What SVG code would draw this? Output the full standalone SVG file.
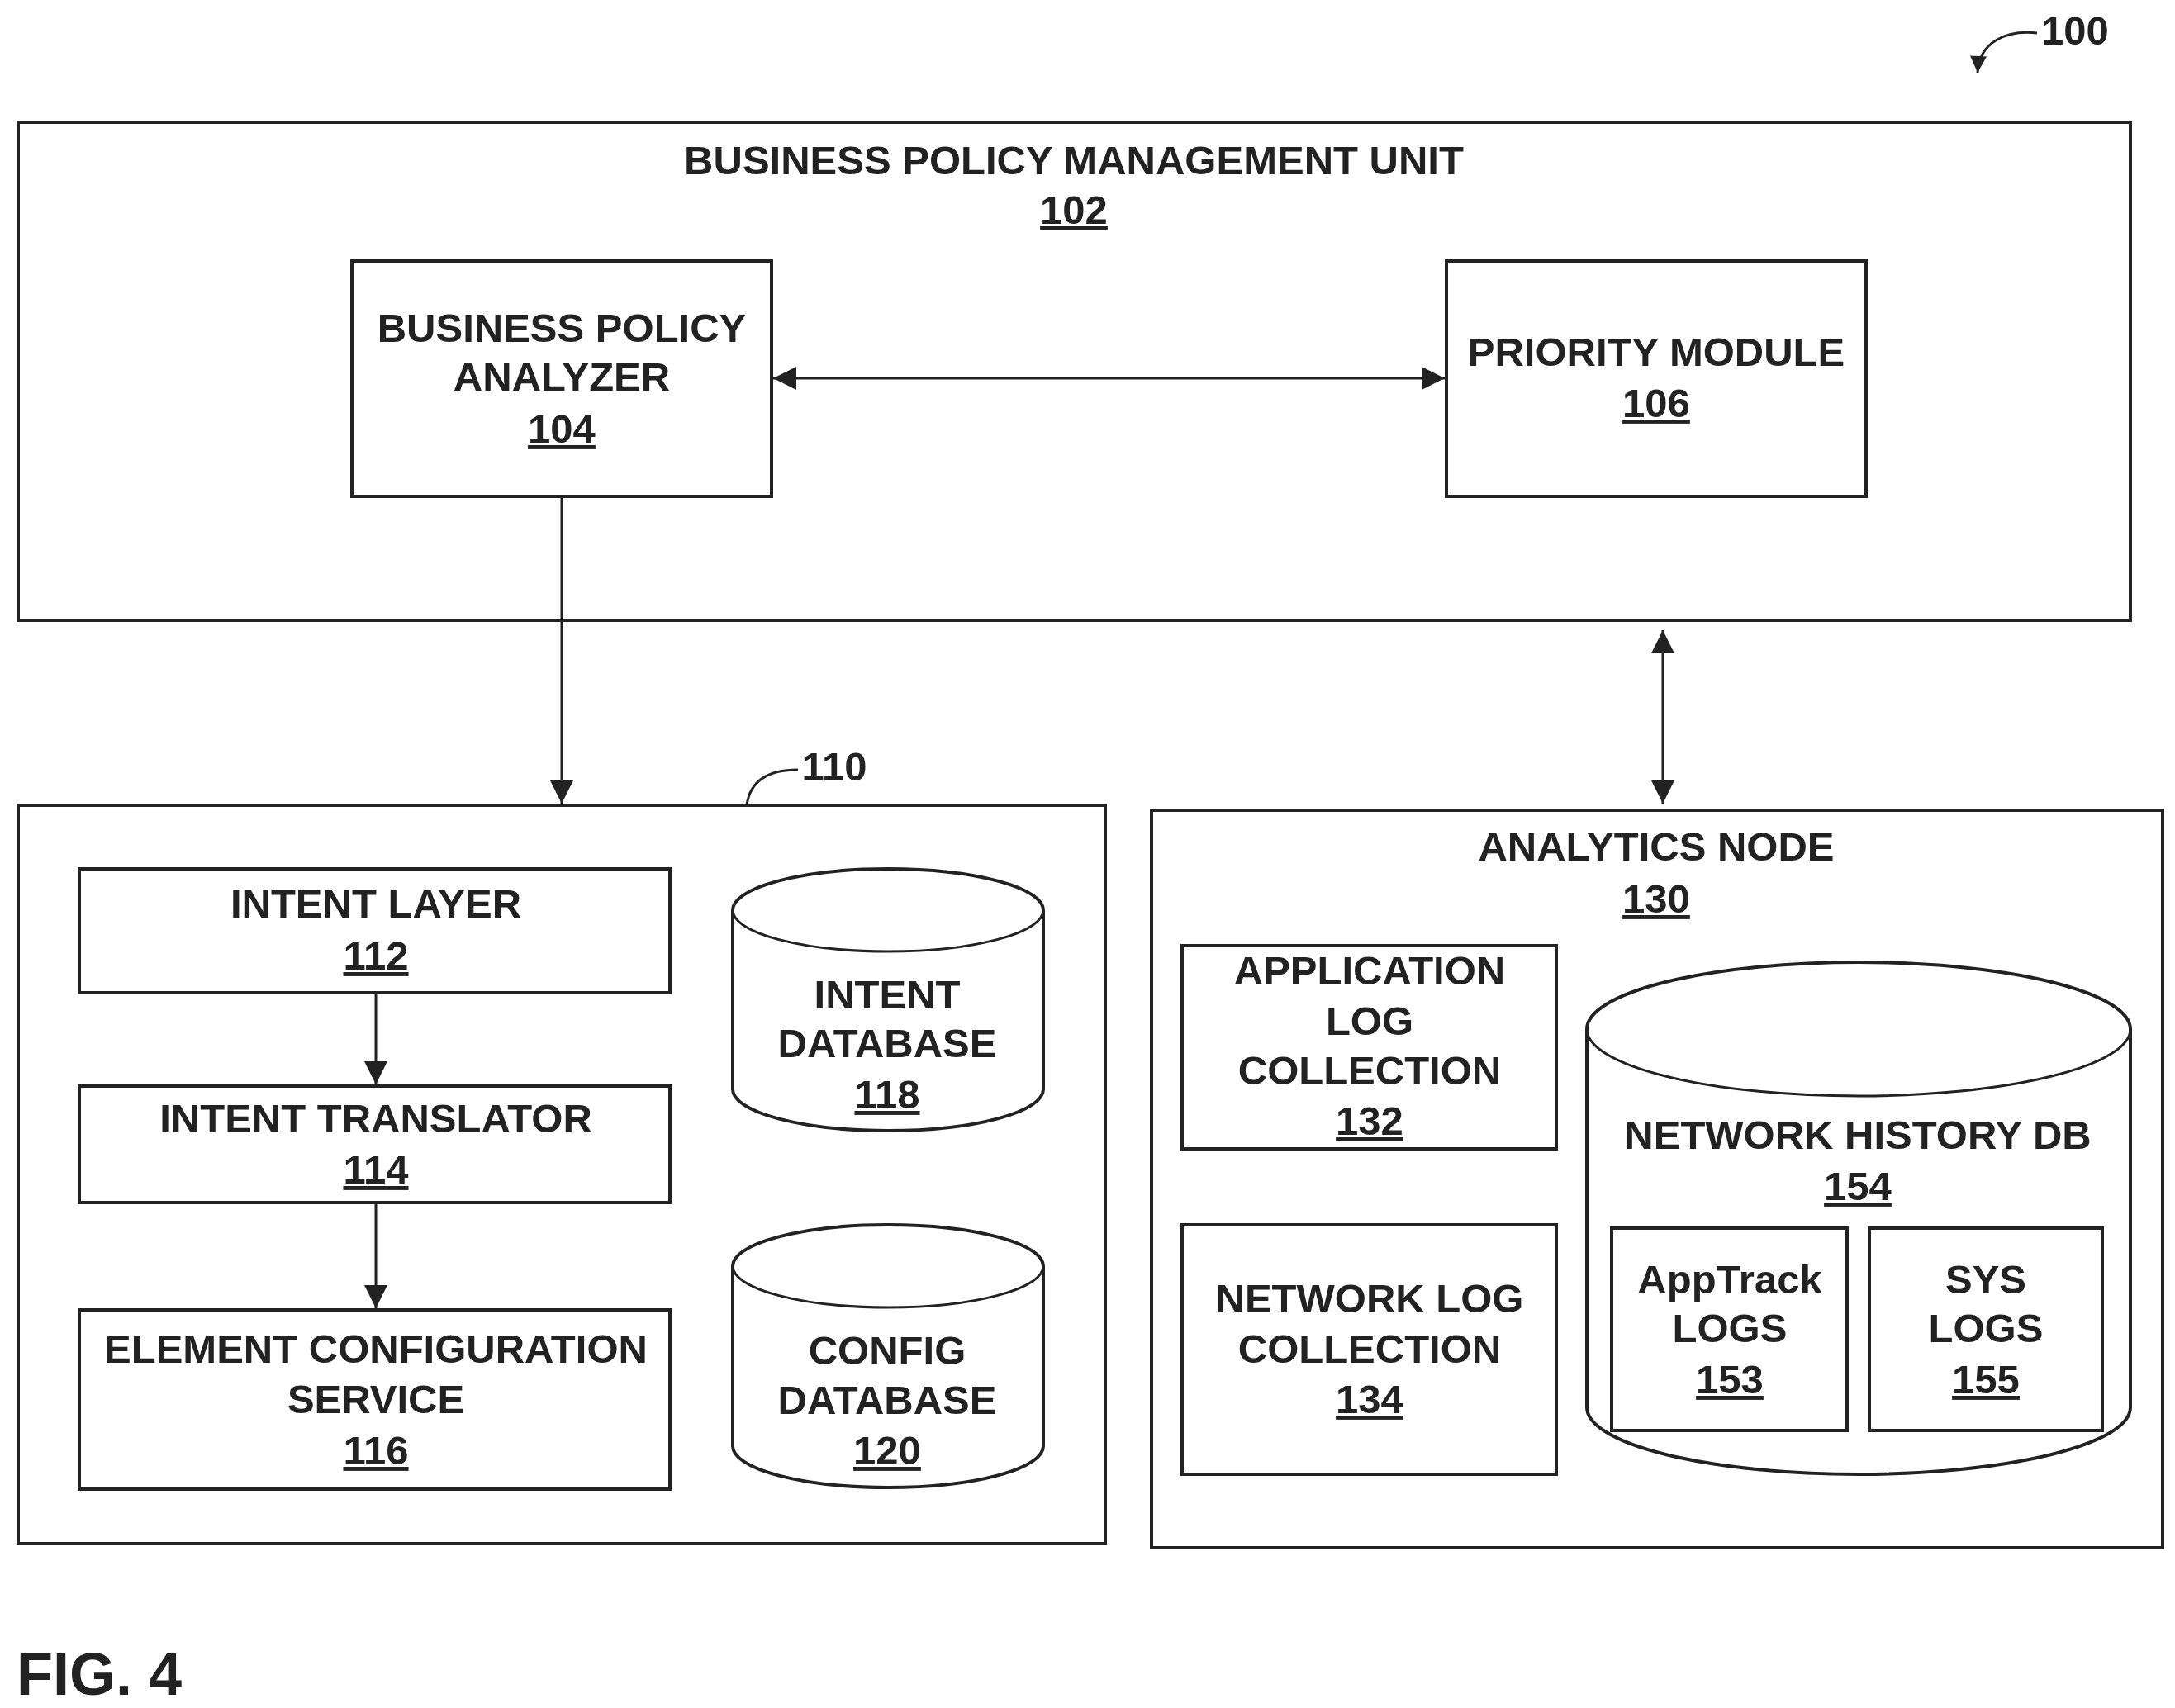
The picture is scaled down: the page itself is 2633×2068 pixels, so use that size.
<svg xmlns="http://www.w3.org/2000/svg" width="2633" height="2068" viewBox="0 0 2633 2068">
<style>
.b{fill:#fff;stroke:#222;stroke-width:4}
.t{font-family:"Liberation Sans",Arial,sans-serif;font-weight:bold;font-size:49px;fill:#222;text-anchor:middle}
.u{text-decoration:underline}
.c{fill:none;stroke:#222;stroke-width:3}
</style>
<defs>
<marker id="a" viewBox="0 0 10 10" refX="10" refY="5" markerWidth="22" markerHeight="20" markerUnits="userSpaceOnUse" orient="auto-start-reverse"><path d="M0,0L10,5L0,10z" fill="#222"/></marker>
<marker id="A" viewBox="0 0 10 10" refX="10" refY="5" markerWidth="36" markerHeight="28" orient="auto-start-reverse" markerUnits="userSpaceOnUse"><path d="M0,0L10,5L0,10z" fill="#222"/></marker>
</defs>
<rect width="2633" height="2068" fill="#fff"/>
<g id="bpmu"><rect class="b" x="22" y="148" width="2557" height="603"/>
<text class="t" x="1300" y="211">BUSINESS POLICY MANAGEMENT UNIT</text>
<text class="t u" x="1300" y="271">102</text></g>
<g id="bpa"><rect class="b" x="426" y="316" width="508" height="285"/>
<text class="t" x="680" y="414">BUSINESS POLICY</text>
<text class="t" x="680" y="473">ANALYZER</text>
<text class="t u" x="680" y="536">104</text></g>
<g id="prio"><rect class="b" x="1751" y="316" width="508" height="285"/>
<text class="t" x="2005" y="443">PRIORITY MODULE</text>
<text class="t u" x="2005" y="505">106</text></g>
<g id="n110"><rect class="b" x="22" y="975" width="1316" height="894"/>
<text class="t" x="1010" y="945">110</text></g>
<g id="il"><rect class="b" x="96" y="1052" width="715" height="150"/>
<text class="t" x="455" y="1111">INTENT LAYER</text>
<text class="t u" x="455" y="1174">112</text></g>
<g id="it"><rect class="b" x="96" y="1315" width="715" height="141"/>
<text class="t" x="455" y="1371">INTENT TRANSLATOR</text>
<text class="t u" x="455" y="1433">114</text></g>
<g id="ec"><rect class="b" x="96" y="1586" width="715" height="217"/>
<text class="t" x="455" y="1650">ELEMENT CONFIGURATION</text>
<text class="t" x="455" y="1711">SERVICE</text>
<text class="t u" x="455" y="1773">116</text></g>
<g id="idb"><path class="b" d="M887,1102 A188,50 0 0 1 1263,1102 V1319 A188,50 0 0 1 887,1319 Z"/>
<path class="c" stroke-width="4" d="M887,1102 A188,50 0 0 0 1263,1102"/>
<text class="t" x="1074" y="1221">INTENT</text>
<text class="t" x="1074" y="1280">DATABASE</text>
<text class="t u" x="1074" y="1342">118</text></g>
<g id="cdb"><path class="b" d="M887,1533 A188,50 0 0 1 1263,1533 V1751 A188,50 0 0 1 887,1751 Z"/>
<path class="c" stroke-width="4" d="M887,1533 A188,50 0 0 0 1263,1533"/>
<text class="t" x="1074" y="1652">CONFIG</text>
<text class="t" x="1074" y="1712">DATABASE</text>
<text class="t u" x="1074" y="1773">120</text></g>
<g id="an"><rect class="b" x="1394" y="981" width="1224" height="893"/>
<text class="t" x="2005" y="1042">ANALYTICS NODE</text>
<text class="t u" x="2005" y="1105">130</text></g>
<g id="alc"><rect class="b" x="1431" y="1145" width="453" height="246"/>
<text class="t" x="1658" y="1192">APPLICATION</text>
<text class="t" x="1658" y="1253">LOG</text>
<text class="t" x="1658" y="1313">COLLECTION</text>
<text class="t u" x="1658" y="1374">132</text></g>
<g id="nlc"><rect class="b" x="1431" y="1483" width="453" height="302"/>
<text class="t" x="1658" y="1589">NETWORK LOG</text>
<text class="t" x="1658" y="1650">COLLECTION</text>
<text class="t u" x="1658" y="1711">134</text></g>
<g id="nhdb"><path class="b" d="M1921,1246 A329,81 0 0 1 2579,1246 V1704 A329,81 0 0 1 1921,1704 Z"/>
<path class="c" stroke-width="4" d="M1921,1246 A329,81 0 0 0 2579,1246"/>
<text class="t" x="2249" y="1391">NETWORK HISTORY DB</text>
<text class="t u" x="2249" y="1453">154</text></g>
<g id="at"><rect class="b" x="1951" y="1487" width="285" height="245"/>
<text class="t" x="2094" y="1566">AppTrack</text>
<text class="t" x="2094" y="1625">LOGS</text>
<text class="t u" x="2094" y="1687">153</text></g>
<g id="sys"><rect class="b" x="2263" y="1487" width="282" height="245"/>
<text class="t" x="2404" y="1566">SYS</text>
<text class="t" x="2404" y="1625">LOGS</text>
<text class="t u" x="2404" y="1687">155</text></g>
<g id="connectors">
<line class="c" x1="936" y1="458" x2="1749" y2="458" marker-start="url(#A)" marker-end="url(#A)"/>
<line class="c" x1="680" y1="601" x2="680" y2="973" marker-end="url(#A)"/>
<line class="c" x1="2013" y1="763" x2="2013" y2="973" marker-start="url(#A)" marker-end="url(#A)"/>
<line class="c" x1="455" y1="1202" x2="455" y2="1313" marker-end="url(#A)"/>
<line class="c" x1="455" y1="1456" x2="455" y2="1584" marker-end="url(#A)"/>
<path class="c" d="M904,975 C908,945 930,932 966,932"/>
<path class="c" d="M2466,40 C2430,36 2396,50 2394,88" marker-end="url(#a)"/>
</g>
<text class="t" x="2512" y="54">100</text>
<text class="t" x="20" y="2052" style="text-anchor:start;font-size:72px">FIG. 4</text>
</svg>
